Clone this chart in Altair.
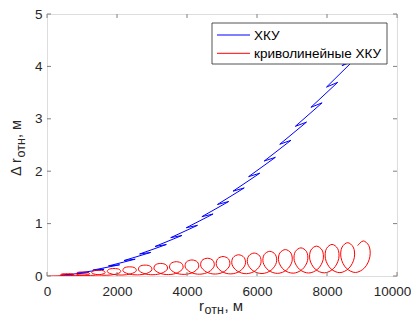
import altair as alt
import pandas as pd

# ---- data ----
red_x = [0,
         358, 617, 770, 739, 580, 421, 390, 543,
         803, 1062, 1215, 1184, 1025, 866, 835, 988,
         1248, 1507, 1660, 1629, 1470, 1311, 1280, 1433,
         1693, 1952, 2105, 2074, 1915, 1756, 1725, 1878,
         2138, 2397, 2550, 2519, 2360, 2201, 2170, 2323,
         2583, 2842, 2995, 2964, 2805, 2646, 2615, 2768,
         3028, 3287, 3440, 3409, 3250, 3091, 3060, 3213,
         3473, 3732, 3885, 3854, 3695, 3536, 3505, 3658,
         3918, 4177, 4330, 4299, 4140, 3981, 3950, 4103,
         4363, 4622, 4775, 4744, 4585, 4426, 4395, 4548,
         4808, 5067, 5220, 5189, 5030, 4871, 4840, 4993,
         5253, 5512, 5665, 5634, 5475, 5316, 5285, 5438,
         5698, 5957, 6110, 6079, 5920, 5761, 5730, 5883,
         6143, 6402, 6555, 6524, 6365, 6206, 6175, 6328,
         6588, 6847, 7000, 6969, 6810, 6651, 6620, 6773,
         7033, 7292, 7445, 7414, 7255, 7096, 7065, 7218,
         7478, 7737, 7890, 7859, 7700, 7541, 7510, 7663,
         7923, 8182, 8335, 8304, 8145, 7986, 7955, 8108,
         8368, 8627, 8780, 8749, 8590, 8431, 8400, 8553,
         8813, 9072, 9225, 9194, 9035, 8876]
red_y = [0.0,
         0.004, 0.010, 0.024, 0.037, 0.043, 0.037, 0.024, 0.010,
         0.007, 0.017, 0.042, 0.066, 0.076, 0.066, 0.042, 0.017,
         0.011, 0.025, 0.060, 0.095, 0.109, 0.095, 0.060, 0.025,
         0.014, 0.033, 0.078, 0.123, 0.142, 0.123, 0.078, 0.033,
         0.018, 0.041, 0.097, 0.152, 0.175, 0.152, 0.097, 0.041,
         0.021, 0.048, 0.115, 0.181, 0.208, 0.181, 0.115, 0.048,
         0.024, 0.056, 0.132, 0.209, 0.240, 0.209, 0.132, 0.056,
         0.027, 0.063, 0.150, 0.237, 0.273, 0.237, 0.150, 0.063,
         0.031, 0.071, 0.169, 0.266, 0.306, 0.266, 0.169, 0.071,
         0.034, 0.079, 0.187, 0.295, 0.339, 0.295, 0.187, 0.079,
         0.037, 0.086, 0.205, 0.323, 0.372, 0.323, 0.205, 0.086,
         0.040, 0.093, 0.223, 0.352, 0.405, 0.352, 0.223, 0.093,
         0.044, 0.102, 0.241, 0.381, 0.438, 0.381, 0.241, 0.102,
         0.047, 0.109, 0.259, 0.409, 0.471, 0.409, 0.259, 0.109,
         0.050, 0.116, 0.277, 0.438, 0.504, 0.438, 0.277, 0.116,
         0.054, 0.125, 0.296, 0.467, 0.537, 0.467, 0.296, 0.125,
         0.057, 0.132, 0.314, 0.495, 0.570, 0.495, 0.314, 0.132,
         0.060, 0.139, 0.332, 0.524, 0.603, 0.524, 0.332, 0.139,
         0.064, 0.148, 0.350, 0.552, 0.636, 0.552, 0.350, 0.148,
         0.067, 0.155, 0.368, 0.581, 0.669, 0.581]

blue_x = [350,
          740, 420, 1185, 865, 1630, 1310, 2075, 1755, 2520, 2200,
          2965, 2645, 3410, 3090, 3855, 3535, 4300, 3980, 4745, 4425,
          5190, 4870, 5635, 5315, 6080, 5760, 6525, 6205, 6970, 6650,
          7415, 7095, 7860, 7540, 8305, 7985, 8750, 8430, 9195, 8875,
          9100]
blue_y = [0.0,
          0.023, 0.017, 0.065, 0.054, 0.129, 0.112, 0.214, 0.192, 0.321, 0.295,
          0.450, 0.419, 0.601, 0.564, 0.773, 0.732, 0.967, 0.921, 1.183, 1.132,
          1.421, 1.365, 1.681, 1.619, 1.962, 1.896, 2.265, 2.194, 2.590, 2.514,
          2.937, 2.856, 3.305, 3.219, 3.696, 3.605, 4.108, 4.012, 4.542, 4.440,
          4.600]

x_ticks = [0, 2000, 4000, 6000, 8000, 10000]
y_ticks = [0, 1, 2, 3, 4, 5]
legend_labels = ["ХКУ", "криволинейные ХКУ"]
legend_colors = ["#0000ff", "#ff0000"]

# ---- layout / style ----
W, H = 350, 262
FONT = "Liberation Sans"
AX = "#262626"
BOX = "#808080"

xs = alt.Scale(domain=[0, 10000], nice=False, zero=False)
ys = alt.Scale(domain=[0, 5], nice=False, zero=False)
xaxis = alt.Axis(values=x_ticks, format="d", title=None, ticks=False, domain=False,
                 grid=False, labelFontSize=13.5, labelColor=AX, labelFont=FONT,
                 labelPadding=8, labelFlush=False,
                 labelOffset=alt.condition("datum.value == 10000", alt.value(-5), alt.value(0)))
yaxis = alt.Axis(values=y_ticks, format="d", title=None, ticks=False, domain=False,
                 grid=False, labelFontSize=13.5, labelColor=AX, labelFont=FONT,
                 labelPadding=5)
X = alt.X("x:Q", scale=xs, axis=xaxis)
Y = alt.Y("y:Q", scale=ys, axis=yaxis)

red = pd.DataFrame({"x": red_x, "y": red_y, "i": list(range(len(red_x)))})
blue = pd.DataFrame({"x": blue_x, "y": blue_y, "i": list(range(len(blue_x)))})

blue_line = alt.Chart(blue).mark_line(color="#0000ff", strokeWidth=1, clip=True).encode(
    x=X, y=Y, order="i:Q")
red_line = alt.Chart(red).mark_line(color="#ff0000", strokeWidth=1, clip=True,
                                    interpolate="catmull-rom").encode(
    x=X, y=Y, order="i:Q")

xt = pd.DataFrame({"x": x_ticks})
yt = pd.DataFrame({"y": y_ticks})
tick_style = dict(color=BOX, strokeWidth=1)
xt_bot = alt.Chart(xt).mark_rule(**tick_style).encode(x=X, y=alt.value(H), y2=alt.value(H - 4))
xt_top = alt.Chart(xt).mark_rule(**tick_style).encode(x=X, y=alt.value(0), y2=alt.value(4))
yt_left = alt.Chart(yt).mark_rule(**tick_style).encode(y=Y, x=alt.value(0), x2=alt.value(4))
yt_right = alt.Chart(yt).mark_rule(**tick_style).encode(y=Y, x=alt.value(W), x2=alt.value(W - 4))

one = pd.DataFrame({"a": [0]})

# legend (drawn on top of the curves)
leg_box = alt.Chart(one).mark_rect(fill="white", stroke=AX, strokeWidth=0.8).encode(
    x=alt.value(165), x2=alt.value(340), y=alt.value(9), y2=alt.value(50))
leg_layers = [leg_box]
for i, (lab, col) in enumerate(zip(legend_labels, legend_colors)):
    yy = 21 + 18.3 * i
    leg_layers.append(alt.Chart(one).mark_rule(color=col, strokeWidth=1).encode(
        x=alt.value(170), x2=alt.value(203), y=alt.value(yy)))
    leg_layers.append(alt.Chart(one).mark_text(
        text=lab, align="left", baseline="middle", font=FONT, fontSize=13.5, color="black").encode(
        x=alt.value(207), y=alt.value(yy + 0.5)))

# axis titles with subscripts
def txt(s, x, y, size, angle=0):
    kw = dict(text=s, align="left", baseline="alphabetic", font=FONT, fontSize=size, color=AX)
    if angle:
        kw["angle"] = angle
    return alt.Chart(one).mark_text(**kw).encode(x=alt.value(x), y=alt.value(y))

ox, oy = 47, 14
titles = [
    txt("r", 199 - ox, 311 - oy, 15),
    txt("отн", 204.5 - ox, 314 - oy, 12.5),
    txt(", м", 224.5 - ox, 311 - oy, 15),
    txt("Δ r", 21 - ox, 176 - oy, 14.5, 270),
    txt("отн", 24.5 - ox, 157.5 - oy, 12.5, 270),
    txt(", м", 21 - ox, 138 - oy, 14.5, 270),
]

chart = alt.layer(
    blue_line, red_line, xt_bot, xt_top, yt_left, yt_right, *leg_layers, *titles
).properties(
    width=W, height=H,
    autosize=alt.AutoSizeParams(type="none"),
    padding={"left": 39, "top": 6, "right": 14, "bottom": 41},
).configure_view(stroke=BOX, strokeWidth=1).configure(background="white")

chart.save("out.html", embed_options={"renderer": "svg", "actions": False})
